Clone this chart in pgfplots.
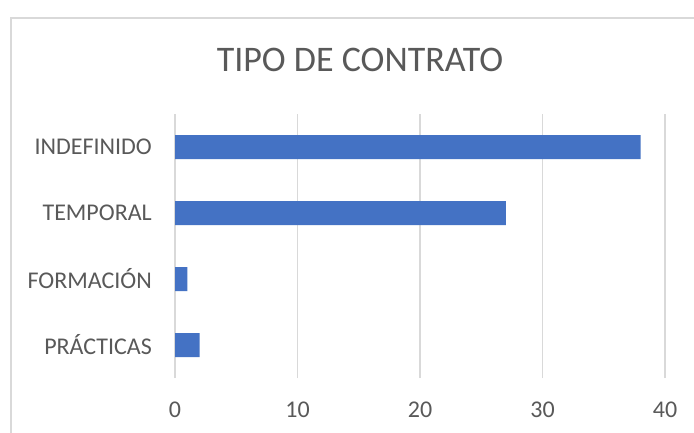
\documentclass[border=0pt]{standalone}
\usepackage{pgfplots}
\pgfplotsset{compat=1.18}
\usepackage{fontspec}
\setmainfont{Carlito}
\definecolor{barblue}{HTML}{4472C4}
\definecolor{txtgray}{HTML}{595959}
\definecolor{gridgray}{HTML}{D9D9D9}
\begin{document}
\begin{tikzpicture}
\useasboundingbox (0,0) rectangle (694pt,432pt);
\clip (0,0) rectangle (694pt,432pt);
\fill[white] (0,0) rectangle (694pt,432pt);
\draw[gridgray, line width=1.2pt] (11pt,-20pt) rectangle (720pt,414pt);
\node[text=txtgray, font=\fontsize{36}{40}\selectfont] at (360pt,372pt) {TIPO DE CONTRATO};
\begin{axis}[
  at={(175pt,54pt)}, anchor=south west,
  scale only axis, width=490pt, height=264pt,
  xbar, bar width=24pt, bar shift=0pt,
  xmin=0, xmax=40, ymin=-0.5, ymax=3.5,
  xtick={0,10,20,30,40},
  ytick={0,1,2,3},
  yticklabels={PRÁCTICAS,FORMACIÓN,TEMPORAL,INDEFINIDO},
  axis line style={draw=none},
  major tick length=0pt,
  xmajorgrids, grid style={gridgray, line width=1.2pt},
  /pgf/number format/assume math mode=true,
  tick label style={text=txtgray, font=\fontsize{24}{28}\selectfont, inner sep=0pt},
  yticklabel style={anchor=east},
  xticklabel style={anchor=north},
  yticklabel shift=23pt,
  xticklabel shift=24pt,
]
\addplot[fill=barblue, draw=none] coordinates {(2,0) (1,1) (27,2) (38,3)};
\end{axis}
\end{tikzpicture}
\end{document}
